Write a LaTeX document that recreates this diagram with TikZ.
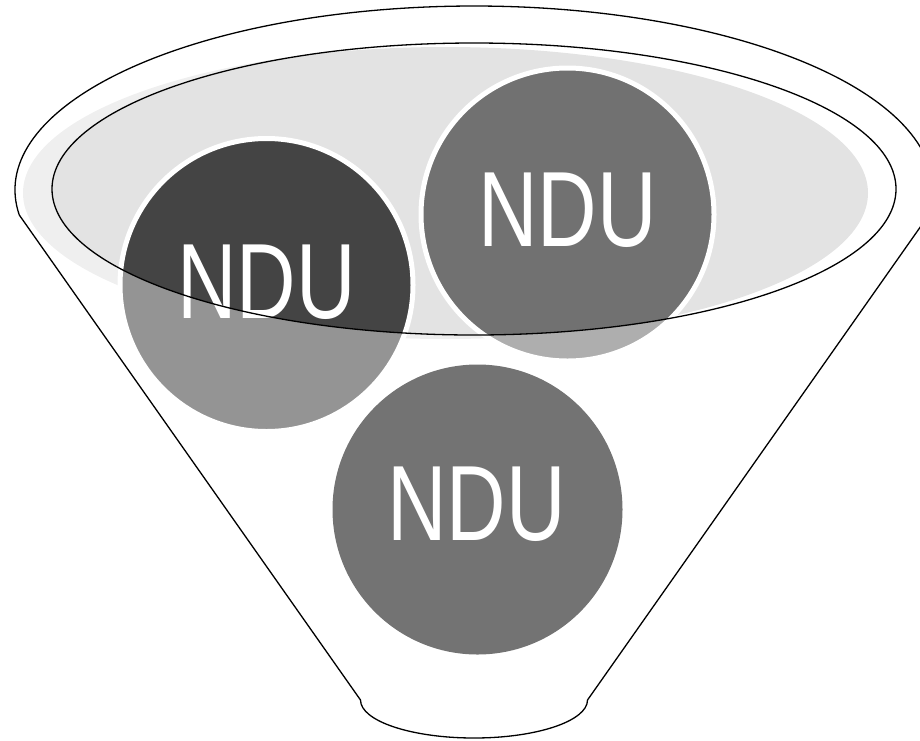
\documentclass[tikz,border=0pt]{standalone}
\usepackage{fontspec}
\setmainfont{Liberation Sans}
\definecolor{ellgray}{HTML}{E3E3E3}
\definecolor{darkc}{HTML}{444444}
\definecolor{midc}{HTML}{717171}
\definecolor{lowc}{HTML}{737373}
\tikzset{
  ball/.style={circle, minimum size=293pt, inner sep=0pt, outer sep=0pt, draw=white, line width=5pt},
  lowball/.style={circle, minimum size=290pt, inner sep=0pt, outer sep=0pt, fill=lowc},
  lbl/.style={text=white, inner sep=0pt, xscale=0.77, font=\fontsize{107}{107}\selectfont},
  outline/.style={draw=black, line width=1.3pt}
}
\begin{document}
\begin{tikzpicture}[x=1pt,y=-1pt]
\useasboundingbox (0,0) rectangle (920,740);
\clip (0,0) rectangle (920,740);
% light gray top surface
\fill[ellgray] (445.5,193) ellipse [x radius=422.5, y radius=146];
% upper circles
\node[ball, fill=darkc] (c1) at (266.5,285) {};
\node[ball, fill=midc] (c2) at (567.5,214.5) {};
\node[lbl] (t1) at (266.5,282.5) {NDU};
\node[lbl] (t2) at (567.5,210.5) {NDU};
% translucent front of the funnel
\fill[white, fill opacity=0.43, even odd rule]
  (474,190) ++(172.2:459 and 184)
  arc[start angle=172.2, end angle=367.8, x radius=459, y radius=184]
  -- (587.5,700)
  arc[start angle=0, end angle=180, x radius=113.5, y radius=38]
  -- cycle
  (474,189) ellipse [x radius=422, y radius=146];
% outlines
\draw[outline, line join=round]
  (474,190) ++(172.2:459 and 184)
  arc[start angle=172.2, end angle=367.8, x radius=459, y radius=184]
  -- (587.5,700)
  arc[start angle=0, end angle=180, x radius=113.5, y radius=38]
  -- cycle;
\draw[outline] (474,189) ellipse [x radius=422, y radius=146];
% bottom circle
\node[lowball] (c3) at (477.5,509.5) {};
\node[lbl] (t3) at (476.5,504) {NDU};
\end{tikzpicture}
\end{document}
